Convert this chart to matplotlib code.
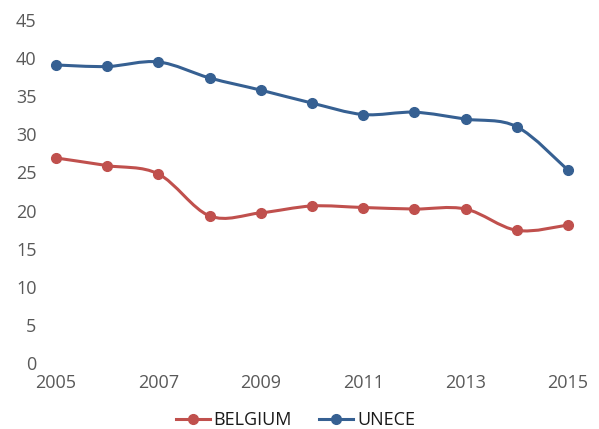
import numpy as np
import matplotlib.pyplot as plt
from matplotlib.path import Path
from matplotlib.patches import PathPatch
from matplotlib.lines import Line2D

# Datos
years = [2005, 2006, 2007, 2008, 2009, 2010, 2011, 2012, 2013, 2014, 2015]
belgium = [26.9, 25.9, 24.8, 19.3, 19.7, 20.6, 20.4, 20.2, 20.2, 17.4, 18.1]
unece = [39.1, 38.9, 39.5, 37.4, 35.8, 34.1, 32.6, 32.9, 32.0, 31.0, 25.3]
y_ticks = [0, 5, 10, 15, 20, 25, 30, 35, 40, 45]
x_ticks = [2005, 2007, 2009, 2011, 2013, 2015]

RED = '#C0504D'
BLUE = '#366092'

plt.rcParams['font.family'] = ['Open Sans', 'DejaVu Sans']


def smooth_path(x, y, tension=1 / 6):
    # Curva tipo Excel: Bezier con puntos de control Catmull-Rom
    x = np.asarray(x, float)
    y = np.asarray(y, float)
    verts = [(x[0], y[0])]
    codes = [Path.MOVETO]
    n = len(x)
    for i in range(n - 1):
        p0 = (x[max(i - 1, 0)], y[max(i - 1, 0)])
        p1 = (x[i], y[i])
        p2 = (x[i + 1], y[i + 1])
        p3 = (x[min(i + 2, n - 1)], y[min(i + 2, n - 1)])
        c1 = (p1[0] + (p2[0] - p0[0]) * tension, p1[1] + (p2[1] - p0[1]) * tension)
        c2 = (p2[0] - (p3[0] - p1[0]) * tension, p2[1] - (p3[1] - p1[1]) * tension)
        verts += [c1, c2, p2]
        codes += [Path.CURVE4] * 3
    return Path(verts, codes)


fig = plt.figure(figsize=(5.99, 4.29), dpi=100)
ax = fig.add_axes([56 / 599, 66 / 429, 512 / 599, 343 / 429])

for vals, color, name in [(belgium, RED, 'BELGIUM'), (unece, BLUE, 'UNECE')]:
    patch = PathPatch(smooth_path(years, vals), facecolor='none', edgecolor=color,
                      lw=2.2, clip_on=False, capstyle='round', joinstyle='round')
    ax.add_patch(patch)
    ax.plot(years, vals, 'o', color=color, ms=7, clip_on=False, zorder=3)

ax.set_xlim(2005, 2015)
ax.set_ylim(0, 45)
ax.set_xticks(x_ticks)
ax.set_yticks(y_ticks)
for s in ax.spines.values():
    s.set_visible(False)
ax.tick_params(length=0, labelsize=13, labelcolor='#595959')
ax.tick_params(axis='y', pad=14)
ax.tick_params(axis='x', pad=8)

handles = [Line2D([], [], color=RED, lw=2.2, marker='o', ms=7),
           Line2D([], [], color=BLUE, lw=2.2, marker='o', ms=7)]
fig.legend(handles, ['BELGIUM', 'UNECE'], loc='center', bbox_to_anchor=(0.493, 0.02),
           ncol=2, frameon=False, fontsize=13, handlelength=1.9, handletextpad=0.2,
           columnspacing=1.5, labelcolor='#1a1a1a')

fig.savefig('out.png', dpi=100)
